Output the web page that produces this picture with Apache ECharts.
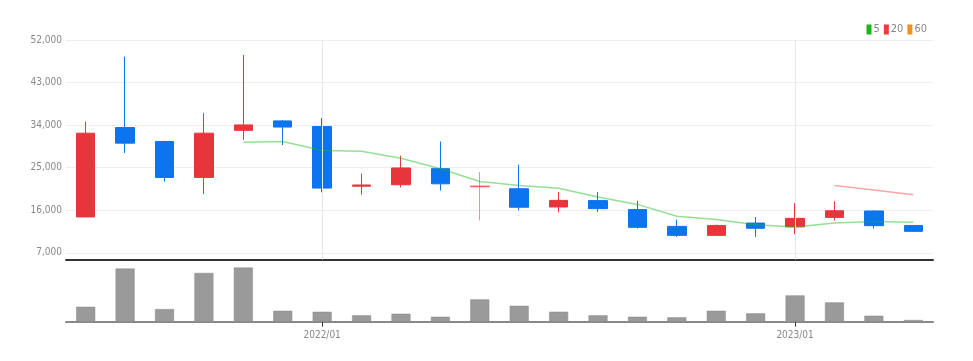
<!DOCTYPE html>
<html>
<head>
<meta charset="utf-8">
<script src="https://cdn.jsdelivr.net/npm/echarts@6/dist/echarts.min.js"></script>
<style>
html,body{margin:0;padding:0;background:#fff;}
#c{width:973px;height:361px;}
</style>
</head>
<body>
<div id="c"></div>
<script>
const categories = ['2021/07','2021/08','2021/09','2021/10','2021/11','2021/12','2022/01','2022/02','2022/03','2022/04','2022/05','2022/06','2022/07','2022/08','2022/09','2022/10','2022/11','2022/12','2023/01','2023/02','2023/03','2023/04'];
const opens  = [14600,33500,30550,22950,32900,34900,33700,21100,21400,24800,20950,20550,16700,18050,16150,12600,10700,13300,12500,14500,15850,12800];
const closes = [32300,30200,22950,32300,34050,33600,20700,21350,24950,21600,21150,16650,18100,16350,12400,10700,12800,12200,14300,15900,12750,11550];
const lows   = [14600,28100,22100,19450,30900,29800,19800,19300,20840,20200,13880,16000,15560,15650,12130,10370,10700,10370,11000,13880,12130,11450];
const highs  = [34750,48480,30700,36540,48840,35060,35480,23730,27530,30540,24090,25630,19870,19870,18030,14030,12950,14590,17550,17890,16000,12850];
const ma5    = ['-','-','-','-',30400,30550,28650,28500,27000,24800,22100,21250,20650,18800,17250,14750,14050,12950,12480,13300,13650,13500];
const ma20   = ['-','-','-','-','-','-','-','-','-','-','-','-','-','-','-','-','-','-','-',21250,20280,19300];
const ma60   = categories.map(() => '-');
const volumes = [150,534,127,490,544,110,100,64,80,50,224,160,100,64,50,44,110,84,264,194,60,17];
const yTicks = [7000,16000,25000,34000,43000,52000];
const labelCats = ['2022/01','2023/01'];

const UP = '#e8353b', DOWN = '#0b74ef';
const FONT = '"DejaVu Sans Condensed", "Roboto", sans-serif';
const showIdx = (i) => labelCats.indexOf(categories[i]) >= 0;

const candleData = categories.map((c, i) => {
  const item = { value: [opens[i], closes[i], lows[i], highs[i]] };
  if (c === '2022/05') item.itemStyle = { opacity: 0.55 };
  return item;
});

const chart = echarts.init(document.getElementById('c'), null, { renderer: 'canvas' });
chart.setOption({
  animation: false,
  backgroundColor: '#fff',
  legend: {
    right: 41, top: 19,
    itemWidth: 5, itemHeight: 10, itemGap: 4,
    icon: 'rect',
    textStyle: { color: '#888', fontSize: 11, fontFamily: FONT, padding: [0, 0, 0, -3] },
    data: ['5', '20', '60']
  },
  grid: [
    { left: 66, right: 40, top: 40, height: 219.5 },
    { left: 66, right: 40, top: 262, height: 59.7 }
  ],
  xAxis: [
    {
      type: 'category', data: categories, gridIndex: 0,
      axisLine: { lineStyle: { color: '#333', width: 2 } },
      axisTick: { show: false }, axisLabel: { show: false },
      splitLine: { show: false }
    },
    {
      type: 'category', data: categories, gridIndex: 1,
      axisLine: { lineStyle: { color: '#888', width: 2 } },
      axisTick: { show: true, interval: (i) => showIdx(i), alignWithLabel: true, length: 5, lineStyle: { color: '#333' } },
      axisLabel: { interval: (i) => showIdx(i), color: '#888', fontSize: 10, fontFamily: FONT, margin: 9 },
      splitLine: { show: false }
    }
  ],
  yAxis: [
    {
      type: 'value', gridIndex: 0, min: 5600, max: 52000,
      axisLine: { show: false },
      axisTick: { show: false, customValues: yTicks },
      axisLabel: { customValues: yTicks, color: '#888', fontSize: 10, fontFamily: FONT, margin: 4,
        formatter: (v) => v.toLocaleString('en-US') },
      splitLine: { show: true, lineStyle: { color: '#eceef2', width: 1.2 } }
    },
    {
      type: 'value', gridIndex: 1, min: 0, max: 600,
      axisLine: { show: false }, axisTick: { show: false }, axisLabel: { show: false }, splitLine: { show: false }
    }
  ],
  series: [
    {
      type: 'candlestick', name: 'price', xAxisIndex: 0, yAxisIndex: 0,
      barWidth: 19,
      itemStyle: { color: UP, color0: DOWN, borderColor: UP, borderColor0: DOWN, borderWidth: 1 },
      markLine: {
        silent: true, symbol: 'none', label: { show: false },
        lineStyle: { color: '#e6e8ee', width: 1, type: 'solid' },
        data: labelCats.map((c) => ({ xAxis: c }))
      },
      data: candleData
    },
    {
      type: 'line', name: '5', xAxisIndex: 0, yAxisIndex: 0, data: ma5,
      symbol: 'none', smooth: false,
      itemStyle: { color: '#17b817' },
      lineStyle: { color: '#17b817', width: 1.5, opacity: 0.45 }
    },
    {
      type: 'line', name: '20', xAxisIndex: 0, yAxisIndex: 0, data: ma20,
      symbol: 'none',
      itemStyle: { color: '#ee3a3a' },
      lineStyle: { color: '#ee3a3a', width: 1.5, opacity: 0.45 }
    },
    {
      type: 'line', name: '60', xAxisIndex: 0, yAxisIndex: 0, data: ma60,
      symbol: 'none',
      itemStyle: { color: '#f0901e' },
      lineStyle: { color: '#f0901e', width: 1.5, opacity: 0.45 }
    },
    {
      type: 'bar', name: 'volume', xAxisIndex: 1, yAxisIndex: 1, data: volumes,
      barWidth: 19,
      itemStyle: { color: '#9a9a9a', borderColor: '#8a8a8a', borderWidth: 0.5 }
    }
  ]
});
</script>
</body>
</html>
